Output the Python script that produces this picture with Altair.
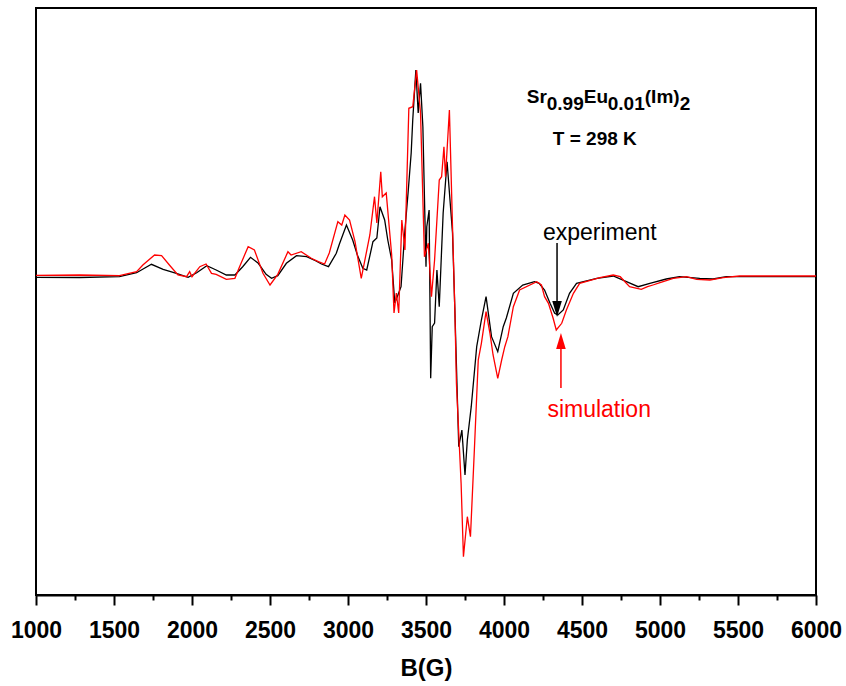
import altair as alt
import pandas as pd

# ---- experiment (black) ----
exp_B = [1000, 1280, 1535, 1645, 1740, 1815, 1900, 1975, 2030, 2095, 2155, 2220, 2275, 2325,
         2375, 2425, 2475, 2510, 2550, 2605, 2670, 2735, 2795, 2830, 2875, 2925, 2945, 2990,
         3030, 3060, 3095, 3120, 3160, 3185, 3205, 3235, 3255, 3280, 3300, 3320, 3340, 3365,
         3385, 3405, 3415, 3435, 3450, 3465, 3480, 3500, 3505, 3520, 3530, 3540, 3555, 3570,
         3585, 3600, 3610, 3635, 3670, 3685, 3710, 3730, 3750, 3765, 3790, 3825, 3855, 3885,
         3920, 3960, 3995, 4015, 4060, 4120, 4195, 4225, 4260, 4295, 4325, 4345, 4380, 4420,
         4465, 4595, 4700, 4785, 4860, 4935, 5040, 5125, 5255, 5340, 5425, 6000]
exp_I = [-2.3, -2.5, -1.7, 2.3, 10.7, 5.7, 1.7, -2.3, 2.3, 9.3, 5, 0, 0, 8.3,
         17.7, 11.7, 0.7, -3.3, -0.7, 11.7, 19.3, 18.3, 14, 11, 8.3, 21.7, 31, 50,
         35, 20, 6.7, 5, 33.3, 37, 68.3, 55, 35, 15, -28, -20, -11.7, 45,
         82, 122, 155, 205, 162, 191.7, 148.3, 8.3, 48.3, 65, -103.3, -51.7, -48, 5,
         -31.7, 25, 62, 113.3, 42, -35, -171.7, -155, -200, -165, -131.7, -71.7, -45, -21.7,
         -61.7, -76.7, -51.7, -43, -18.3, -10, -6.7, -8.3, -15, -28.3, -38.3, -40, -35, -18.3,
         -8.3, -3.3, -1, -6.7, -11.7, -8.3, -4, -1.7, -3.3, -4, -1.7, -1.7]

# ---- simulation (red) ----
sim_B = [1000, 1280, 1535, 1645, 1685, 1760, 1805, 1855, 1910, 1965, 1985, 2000, 2050, 2090,
         2125, 2155, 2220, 2275, 2305, 2360, 2400, 2455, 2500, 2550, 2615, 2635, 2700, 2765,
         2810, 2850, 2880, 2935, 2960, 2980, 3010, 3045, 3085, 3140, 3170, 3185, 3210, 3220,
         3245, 3280, 3295, 3310, 3325, 3345, 3365, 3390, 3415, 3440, 3465, 3490, 3515, 3535,
         3555, 3585, 3600, 3615, 3625, 3650, 3670, 3685, 3695, 3725, 3740, 3765, 3785, 3810,
         3835, 3855, 3885, 3910, 3930, 3960, 3985, 4005, 4025, 4060, 4100, 4210, 4240, 4260,
         4285, 4315, 4335, 4370, 4400, 4445, 4485, 4615, 4700, 4745, 4805, 4880, 4920, 4955,
         5000, 5085, 5170, 5235, 5320, 5405, 5510, 6000]
sim_I = [-0.3, 0, -0.7, 3.3, 10, 20, 19.3, 10, 0, -1.7, 3.3, -1.7, 8.3, 11,
         1.7, 0.7, -4.3, -3.3, 8.3, 28.3, 25, 1.7, -10, 0.7, 23.3, 20, 23.3, 16.7,
         13.3, 11, 22, 53.3, 50, 60, 55, 33.3, -3.3, 40, 78.3, 52, 103.3, 78.3,
         82, 20, -38, -18, -38, 55, 25, 166.7, 168.3, 205, 162, 18.3, 31.7, -21.7,
         15, 95, 98.3, 128.3, 98.3, 165, 48.3, -35, -108.3, -208.3, -281.7, -241.7, -261.7, -175,
         -85, -68.3, -36.7, -58.3, -80, -103.3, -85, -71.7, -61.7, -31.7, -15, -6.7, -10, -21.7,
         -28.3, -43.3, -55, -48.3, -35, -18.3, -8.3, -2.7, 0, -1.7, -11.7, -14.3, -11.7, -10,
         -7.7, -3.3, -1.7, -4.3, -5, -2.7, -1, -1]

major_ticks = list(range(1000, 6001, 500))
minor_ticks = list(range(1250, 6000, 500))

# annotations (data coordinates)
exp_arrow = {"B": 4340, "tail": 32, "tip": -42, "line_end": -30}
sim_arrow = {"B": 4365, "tail": -113, "tip": -58, "line_end": -70}
exp_label = {"B": 4614, "I": 42, "text": "experiment"}
sim_label = {"B": 4610, "I": -135, "text": "simulation"}
formula_anchor = {"B": 4146, "I": 178}
formula_parts = [("Sr", 0, 0), ("0.99", 20, 7), ("Eu", 57, 0), ("0.01", 81, 7), ("(Im)", 118, 0), ("2", 153, 7)]
temp_label = {"B": 4582, "I": 136, "text": "T = 298 K"}

FONT = "Liberation Sans"
xscale = alt.Scale(domain=[1000, 6000], nice=False, zero=False)
yscale = alt.Scale(domain=[-320, 267], nice=False, zero=False)

df_exp = pd.DataFrame({"B": exp_B, "I": exp_I})
df_sim = pd.DataFrame({"B": sim_B, "I": sim_I})

major_axis = alt.Axis(values=major_ticks, orient="bottom", tickSize=10, tickWidth=2, tickColor="black",
                      domainColor="black", domainWidth=2, labelFont=FONT, labelFontWeight="bold",
                      labelFontSize=23, labelColor="black", labelPadding=14, labelFlush=False,
                      labelOverlap=False, format="d", grid=False, title="B(G)", titleFont=FONT,
                      titleFontWeight="bold", titleFontSize=24, titleColor="black", titlePadding=14)
minor_axis = alt.Axis(values=minor_ticks, orient="bottom", tickSize=5, tickWidth=2, tickColor="black",
                      domain=False, labels=False, grid=False)

X_NOAXIS = dict(scale=xscale, axis=None)
Y_NOAXIS = dict(scale=yscale, axis=None)

exp_line = alt.Chart(df_exp).mark_line(color="black", strokeWidth=1.3).encode(
    x=alt.X("B:Q", scale=xscale, axis=major_axis),
    y=alt.Y("I:Q", **Y_NOAXIS),
)
sim_line = alt.Chart(df_sim).mark_line(color="#ff0000", strokeWidth=1.3).encode(
    x=alt.X("B:Q", scale=xscale, axis=minor_axis, title=None),
    y=alt.Y("I:Q", **Y_NOAXIS),
)

df_arrows = pd.DataFrame([
    {"B": exp_arrow["B"], "y1": exp_arrow["tail"], "y2": exp_arrow["line_end"], "c": "black"},
    {"B": sim_arrow["B"], "y1": sim_arrow["tail"], "y2": sim_arrow["line_end"], "c": "#ff0000"},
])
arrow_lines = alt.Chart(df_arrows).mark_rule(strokeWidth=1.5).encode(
    x=alt.X("B:Q", **X_NOAXIS),
    y=alt.Y("y1:Q", **Y_NOAXIS),
    y2="y2:Q",
    color=alt.Color("c:N", scale=None),
)
head_down = alt.Chart(pd.DataFrame([{"B": exp_arrow["B"], "I": exp_arrow["tip"]}])).mark_point(
    shape="M -0.6 -2 L 0.6 -2 L 0 0 Z", filled=True, size=256, color="black", opacity=1, strokeWidth=0
).encode(x=alt.X("B:Q", **X_NOAXIS), y=alt.Y("I:Q", **Y_NOAXIS))
head_up = alt.Chart(pd.DataFrame([{"B": sim_arrow["B"], "I": sim_arrow["tip"]}])).mark_point(
    shape="M -0.6 2 L 0.6 2 L 0 0 Z", filled=True, size=256, color="#ff0000", opacity=1, strokeWidth=0
).encode(x=alt.X("B:Q", **X_NOAXIS), y=alt.Y("I:Q", **Y_NOAXIS))

def label(d, color, weight="normal", size=23):
    return alt.Chart(pd.DataFrame([d])).mark_text(
        font=FONT, fontSize=size, fontWeight=weight, color=color, align="center", baseline="middle"
    ).encode(x=alt.X("B:Q", **X_NOAXIS), y=alt.Y("I:Q", **Y_NOAXIS), text="text:N")

layers = [exp_line, sim_line, arrow_lines, head_down, head_up,
          label(exp_label, "black"), label(sim_label, "#ff0000"),
          label(temp_label, "black", "bold", 19)]

for txt, dx, dy in formula_parts:
    layers.append(
        alt.Chart(pd.DataFrame([{"B": formula_anchor["B"], "I": formula_anchor["I"], "text": txt}])).mark_text(
            font=FONT, fontSize=19, fontWeight="bold", color="black", align="left", baseline="middle",
            dx=dx, dy=dy
        ).encode(x=alt.X("B:Q", **X_NOAXIS), y=alt.Y("I:Q", **Y_NOAXIS), text="text:N")
    )

chart = alt.layer(*layers).resolve_axis(x="independent").properties(
    width=780, height=587,
    autosize=alt.AutoSizeParams(type="none"),
    padding={"left": 36, "top": 8, "right": 30, "bottom": 91},
    background="white",
).configure_view(stroke="black", strokeWidth=2)

chart.save("out.html", embed_options={"renderer": "svg", "actions": False})
